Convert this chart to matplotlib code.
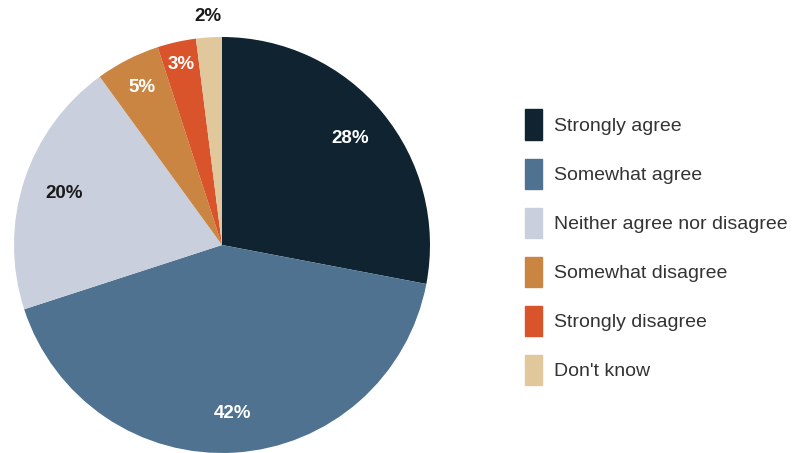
import matplotlib.pyplot as plt
import numpy as np

labels = ["Strongly agree", "Somewhat agree", "Neither agree nor disagree",
          "Somewhat disagree", "Strongly disagree", "Don't know"]
values = [28, 42, 20, 5, 3, 2]
colors = ["#0f2430", "#4e7290", "#c9cfdc", "#c98541", "#d9542a", "#e0c89c"]
text_colors = ["white", "white", "#1a1a1a", "white", "white", "#1a1a1a"]
label_dist = [0.8, 0.81, 0.8, 0.85, 0.89, 1.1]

font = ["Liberation Sans", "DejaVu Sans"]

fig = plt.figure(figsize=(8, 4.53), dpi=100)
ax = fig.add_axes((0.0175, 0.0, 0.52, 416 / 453))

wedges, _ = ax.pie(values, colors=colors, startangle=90, counterclock=False,
                   wedgeprops=dict(linewidth=0))
ax.set_xlim(-1, 1)
ax.set_ylim(-1, 1)
ax.set_aspect("auto")

for w, v, tc, d in zip(wedges, values, text_colors, label_dist):
    ang = np.deg2rad((w.theta1 + w.theta2) / 2)
    ax.text(d * np.cos(ang), d * np.sin(ang), f"{v}%", ha="center", va="center",
            color=tc, fontsize=13.5, fontweight="bold", family=font)

handles = [plt.Rectangle((0, 0), 1, 1, color=c) for c in colors]
leg = fig.legend(handles, labels, loc="upper left", bbox_to_anchor=(0.634, 0.797),
                 frameon=False, handlelength=0.9, handleheight=2.0,
                 labelspacing=0.98, handletextpad=0.6,
                 prop=dict(family=font, size=14))
for t in leg.get_texts():
    t.set_color("#333333")

fig.savefig("out.png", dpi=100)
